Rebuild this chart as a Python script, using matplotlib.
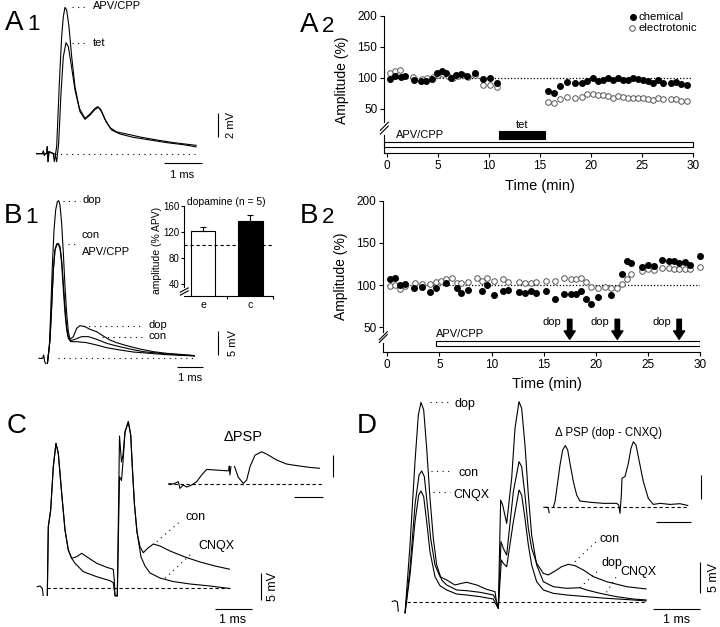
import numpy as np
import matplotlib
matplotlib.use('Agg')
import matplotlib.pyplot as plt
from matplotlib.patches import Rectangle

plt.rcParams['font.family'] = ['Liberation Sans', 'DejaVu Sans']

W, H = 720, 627
nan = np.nan

# ---------------- A1 traces (ms, mV)
a1_apv_t = [0, 0.175, 0.193, 0.219, 0.246, 0.281, 0.298, 0.316, 0.342, 0.456, 0.482, 0.544, 0.614, 0.675,
            0.719, 0.763, 0.807, 0.868, 0.939, 1.026, 1.14, 1.289, 1.421, 1.553, 1.623, 1.702, 1.816, 1.947,
            2.123, 2.386, 2.737, 3.175, 3.614, 4.228]
a1_apv_v = [0, 0, 0.22, -0.14, 0, 0, 0.58, -0.67, 0.17, -0.03, -0.67, 0.58, 5.86, 9.75, 11.42, 12.19, 11.97,
            10.58, 8.08, 5.58, 3.78, 2.94, 3.31, 3.78, 3.92, 3.69, 2.86, 2.17, 1.81, 1.64, 1.39, 1.14, 0.92, 0.69]
a1_tet_t = [0, 0.175, 0.193, 0.219, 0.246, 0.281, 0.298, 0.316, 0.342, 0.5, 0.544, 0.596, 0.658, 0.719, 0.789,
            0.851, 0.921, 1.026, 1.158, 1.289, 1.421, 1.553, 1.64, 1.728, 1.842, 1.991, 2.211, 2.561, 3.0, 3.439,
            3.877, 4.228]
a1_tet_v = [0, 0, 0.22, -0.14, 0, 0, 0.58, -0.67, 0.17, -0.03, -0.67, 0.86, 5.03, 8.08, 9.25, 8.92, 7.53, 5.31,
            3.5, 2.86, 3.22, 3.69, 3.86, 3.5, 2.67, 1.97, 1.64, 1.36, 1.14, 0.92, 0.75, 0.56]

# ---------------- A2 time course (min, %)
a2_chem_t = [0.3, 0.8, 1.4, 1.8, 2.7, 3.3, 3.8, 4.4, 4.9, 5.4, 5.8, 6.3, 6.8, 7.3, 7.9, 8.6, 9.4, 10.1, 10.8,
             15.8, 16.4, 17.0, 17.7, 18.5, 19.1, 19.6, 20.2, 20.7, 21.2, 21.7, 22.2, 22.7, 23.2, 23.7, 24.1,
             24.6, 25.1, 25.6, 26.1, 26.6, 27.1, 27.9, 28.4, 28.9, 29.4]
a2_chem_v = [98, 103, 100.5, 102, 96, 95, 95, 98, 108, 110, 108, 99, 105, 106, 102, 107.5, 98, 100, 91,
             78, 75, 86.5, 93.5, 91, 91, 94, 100, 94.6, 96, 99, 97, 99, 96, 95.7, 99.5, 98, 96, 94.6, 92, 96,
             91, 91, 93, 90, 88]
a2_elec_t = [0.3, 0.8, 1.3, 2.6, 3.4, 3.9, 4.5, 5.0, 5.5, 6.0, 6.5, 7.0, 7.5, 8.0, 8.6, 9.4, 10.1, 10.8,
             15.8, 16.4, 17.0, 17.7, 18.5, 19.1, 19.6, 20.2, 20.7, 21.2, 21.7, 22.2, 22.7, 23.2, 23.7, 24.1,
             24.6, 25.1, 25.6, 26.1, 26.6, 27.1, 27.9, 28.4, 28.9, 29.4]
a2_elec_v = [107, 110, 112, 101.6, 98, 100, 101, 104, 106, 103, 100, 103, 104, 101, 104, 88, 87.6, 85.5,
             60, 58.6, 65.6, 69, 66.7, 69, 73, 74, 72, 72, 70.4, 68, 71, 68.3, 67, 67, 67, 66.7, 66, 64, 67,
             65, 65, 66, 62, 62]
a2_apv = (-0.26, 30.0)
a2_tet = (11.0, 15.55)

# ---------------- B1 traces (ms, mV)
b1_art_t = [0, 0.167, 0.205, 0.244, 0.3]
b1_art_v = [-0.14, -0.14, 0.55, -0.82, -1.3]
b1_dop_t = [0.346, 0.423, 0.474, 0.538, 0.603, 0.667, 0.731, 0.782, 0.833, 0.897, 0.962, 1.026, 1.090, 1.154,
            1.218, 1.346, 1.474, 1.603, 1.795, 1.987, 2.244, 2.5, 2.756, 3.013, 3.397, 3.910, 4.423, 4.936,
            5.449, 6.026]
b1_dop_v = [-1.30, 2.26, 9.11, 18.70, 26.23, 30.34, 32.05, 32.26, 31.37, 27.60, 21.44, 14.59, 9.11, 5.34,
            3.77, 4.32, 6.03, 6.58, 6.37, 5.82, 5.34, 4.45, 3.63, 3.08, 2.47, 1.78, 1.23, 0.89, 0.68, 0.41]
b1_con_t = [0.346, 0.449, 0.513, 0.577, 0.641, 0.705, 0.769, 0.833, 0.897, 0.962, 1.026, 1.090, 1.154, 1.244,
            1.410, 1.667, 1.923, 2.244, 2.628, 3.013, 3.526, 4.038, 4.679, 5.321, 6.026]
b1_con_v = [-1.30, 3.63, 10.48, 18.01, 22.12, 23.36, 23.49, 22.81, 20.07, 15.27, 10.48, 6.37, 4.32, 3.49,
            3.77, 4.32, 4.32, 3.77, 2.95, 2.40, 1.78, 1.23, 0.89, 0.62, 0.41]
b1_apv_t = [0.346, 0.449, 0.513, 0.577, 0.641, 0.705, 0.769, 0.833, 0.897, 0.962, 1.026, 1.090, 1.154, 1.244,
            1.474, 1.859, 2.244, 2.628, 3.141, 3.654, 4.295, 4.936, 6.026]
b1_apv_v = [-1.30, 3.63, 10.48, 18.01, 22.12, 23.15, 23.29, 22.47, 19.38, 13.90, 9.11, 5.68, 3.97, 3.29,
            3.29, 3.08, 2.60, 2.05, 1.58, 1.16, 0.89, 0.62, 0.34]

# B1 inset bars
inset_cats = ['e', 'c']
inset_vals = [122, 137]
inset_err = [5, 9]

# ---------------- B2 time course (min, %)
b2_chem_t = [0.26, 0.74, 1.2, 1.7, 2.6, 3.3, 4.1, 4.7, 5.6, 6.65, 7.1, 7.7, 9.05, 9.6, 10.2, 11.1, 11.6, 12.6,
             13.2, 13.8, 14.3, 15.2, 16.1, 17.0, 17.6, 18.1, 18.6, 19.1, 19.5, 20.2, 21.5, 22.5, 23.0, 23.4,
             24.4, 25.0, 25.6, 26.4, 27.05, 27.5, 28.0, 28.6, 29.0, 30.0]
b2_chem_v = [106.7, 109, 100, 100.8, 96, 98, 92, 97, 103, 97, 91, 94.5, 93, 100, 88, 93, 94.5, 92, 91, 93,
             91, 93, 84, 90, 90, 90, 93, 83, 77.6, 86, 88.6, 113, 128, 125.6, 121, 123.6, 123, 130, 128, 128,
             126, 127.6, 124.4, 134]
b2_elec_t = [0.26, 0.74, 1.2, 1.7, 2.65, 3.3, 4.1, 4.7, 5.15, 5.6, 6.2, 6.65, 7.1, 7.7, 8.6, 9.05, 9.6, 10.2,
             11.1, 11.6, 12.6, 13.2, 13.8, 14.3, 15.2, 16.1, 17.0, 17.6, 18.1, 18.6, 19.1, 19.5, 20.2, 20.9,
             21.5, 22.0, 22.5, 23.0, 23.4, 24.4, 25.0, 25.6, 26.4, 27.05, 27.5, 28.0, 28.6, 29.0, 30.0]
b2_elec_v = [99, 99.6, 95.7, 99, 102, 100.8, 100.8, 103.5, 105, 107.5, 109, 103, 103, 104, 109, 105, 109,
             104.7, 107.5, 103.5, 103.5, 102.4, 102, 103.5, 104.7, 104.3, 109, 107, 107, 108, 103.5, 98, 96.9,
             98, 96.9, 96, 101, 106.7, 113, 117, 118.5, 117.7, 120, 120, 119, 119, 119, 119, 121]
b2_apv = (4.64, 30.0)
b2_dop_times = [17.5, 22.07, 28.0]

# ---------------- C traces (ms, mV)
c_art_t = [0, 0.088, 0.150, 0.177]
c_art_v = [0.18, 0.31, -0.11, -1.52]
c_con_t = [0.284, 0.311, 0.375, 0.445, 0.517, 0.579, 0.670, 0.759, 0.847, 0.938, 1.072, 1.206, 1.340, 1.609,
           1.877, 2.054, 2.080, 2.099, 2.161, 2.220, 2.273, 2.314, 2.367, 2.456, 2.520, 2.568, 2.622, 2.689,
           2.769, 2.858, 2.984, 3.126, 3.306, 3.574, 3.976, 4.378, 4.780, 5.182]
c_con_v = [-1.52, 11.15, 14.2, 22.12, 26.4, 24.57, 17.26, 10.55, 6.89, 5.37, 5.67, 6.29, 5.67, 4.46, 3.73,
           3.36, 1.41, -1.33, -1.52, 27.73, 22.98, 24.26, 28.46, 30.35, 27.92, 21.52, 15.12, 10.18, 7.49,
           6.40, 7.26, 7.99, 7.62, 6.71, 5.61, 4.70, 3.97, 3.36]
c_cnqx_t = [0.284, 0.311, 0.375, 0.445, 0.517, 0.579, 0.670, 0.759, 0.847, 0.938, 1.027, 1.249, 1.609, 1.965,
            2.054, 2.080, 2.099, 2.161, 2.220, 2.273, 2.314, 2.367, 2.456, 2.520, 2.568, 2.622, 2.689, 2.796,
            2.903, 3.037, 3.306, 3.654, 4.110, 4.646, 5.182]
c_cnqx_v = [-1.52, 11.15, 14.2, 22.12, 26.4, 24.57, 17.26, 10.55, 6.89, 5.37, 4.46, 2.93, 2.01, 1.28, 0.91,
            -0.42, -1.52, -1.52, 20.3, 19.6, 23.0, 28.46, 30.35, 27.92, 21.52, 15.12, 10.18, 5.61, 3.97, 2.69,
            1.77, 1.13, 0.68, 0.31, -0.15]
# C inset (difference trace, bar units)
cpsp_t = [0, 0.172, 0.345, 0.402, 0.517, 0.632, 0.805, 0.977, 1.149, 1.322, 1.667, 2.011, 2.080, 2.103, 2.126,
          2.161, nan, 2.277, 2.415, 2.587, 2.702, 2.817, 2.99, 3.22, 3.392, 3.737, 4.082, 4.541, 4.886, 5.231]
cpsp_v = [0, -0.01, 0.09, -0.21, -0.06, -0.15, -0.06, 0.09, 0.39, 0.64, 0.61, 0.58, 0.58, 0.79, 0.39, 0.79,
          nan, 0.79, 0.28, 0.015, 0.16, 0.76, 1.28, 1.43, 1.33, 1.06, 0.88, 0.79, 0.73, 0.69]

# ---------------- D traces (ms, mV)
d_art_t = [0, 0.071, 0.121, 0.142]
d_art_v = [0.05, 0.21, 0, -1.53]
d_dop_t = [0.285, 0.392, 0.499, 0.570, 0.627, 0.685, 0.749, 0.820, 0.891, 0.963, 1.070, 1.177, 1.391, 1.605,
           1.891, 2.176, 2.233, 2.262, 2.283, 2.333, 2.376, 2.462, 2.569, 2.640, 2.726, 2.783, 2.854, 2.926,
           2.997, 3.104, 3.247, 3.461, 3.747, 4.032, 4.175, 4.460, 4.817, 5.174, 5.460]
d_dop_v = [-1.79, 9.00, 22.17, 29.54, 31.54, 30.33, 24.28, 16.38, 10.06, 5.85, 3.48, 2.69, 1.90, 1.79, 1.53,
           1.11, 0.32, -0.47, -1.0, 16.11, 15.32, 12.43, 19.54, 27.44, 31.65, 30.60, 24.80, 16.90, 10.58, 5.85,
           3.21, 2.42, 2.16, 2.26, 1.90, 1.37, 0.84, 0.47, 0.32]
d_con_t = [0.285, 0.392, 0.499, 0.585, 0.642, 0.699, 0.763, 0.834, 0.927, 1.034, 1.177, 1.355, 1.498, 1.605,
           1.819, 2.034, 2.212, 2.248, 2.283, 2.340, 2.390, 2.462, 2.605, 2.726, 2.783, 2.854, 2.926, 2.997,
           3.104, 3.247, 3.354, 3.497, 3.640, 3.782, 3.925, 4.103, 4.318, 4.603, 5.031, 5.460]
d_con_v = [-1.79, 5.32, 15.32, 20.06, 20.70, 19.80, 15.32, 10.06, 5.85, 4.00, 3.48, 2.69, 2.95, 3.11, 2.69,
           2.00, 1.63, -0.21, -1.0, 9.53, 8.48, 7.42, 17.43, 22.17, 21.38, 16.90, 11.64, 8.48, 6.11, 4.53, 4.27,
           4.90, 5.58, 5.95, 5.74, 5.06, 4.00, 3.21, 2.42, 2.05]
d_cnqx_t = [0.285, 0.392, 0.499, 0.578, 0.627, 0.685, 0.749, 0.820, 0.927, 1.034, 1.177, 1.391, 1.605, 1.891,
            2.176, 2.248, 2.283, 2.348, 2.390, 2.462, 2.605, 2.726, 2.783, 2.854, 2.926, 2.997, 3.104, 3.247,
            3.461, 3.747, 4.175, 4.603, 5.174, 5.460]
d_cnqx_v = [-1.79, 4.27, 12.69, 16.90, 17.54, 16.64, 12.69, 7.95, 4.00, 2.58, 1.90, 1.26, 1.11, 0.84, 0.47,
            -0.58, -1.0, 6.64, 6.11, 5.58, 12.69, 17.69, 16.90, 13.22, 9.00, 5.85, 3.21, 1.90, 1.37, 1.11, 0.84,
            0.58, 0.32, 0.16]
# D inset (difference trace, bar units)
dpsp_t = [-0.048, 0.076, 0.105, 0.124, nan, 0.238, 0.286, 0.352, 0.429, 0.505, 0.581, 0.648, 0.714, 0.81,
          0.905, 1.0, 1.286, 1.667, 2.048, 2.105, 2.143, 2.181, 2.2, 2.286, 2.381, 2.457, 2.524, 2.6, 2.695,
          2.81, 2.952, 3.095, 3.286, 3.571, 3.857, 4.094]
dpsp_v = [0, 0, -0.11, -0.25, nan, 0, 0.235, 0.93, 1.76, 2.39, 2.57, 2.39, 1.83, 1.07, 0.51, 0.26, 0.21,
          0.165, 0.165, 0.096, -0.25, 0.51, 1.21, 1.28, 1.83, 2.46, 2.73, 2.6, 1.9, 1.07, 0.37, 0.12, 0.165,
          0.12, 0.15, 0.07]

LW = 0.8
DOTS = (0, (1, 4))
DASH = (0, (3, 2.4))

fig = plt.figure(figsize=(W / 100, H / 100), dpi=100)


def rect_px(l, t, r, b):
    return [l / W, 1 - b / H, (r - l) / W, (b - t) / H]


def trace_axes(x0, y0, sx, sy):
    # transparent axes over the whole figure; (x0, y0) pixel of the origin, sx/sy pixels per unit
    ax = fig.add_axes([0, 0, 1, 1])
    ax.set_xlim(-x0 / sx, (W - x0) / sx)
    ax.set_ylim((y0 - H) / sy, y0 / sy)
    ax.axis('off')
    ax.patch.set_alpha(0)
    return ax


def line(ax, x, y, ls='-'):
    ax.plot(x, y, color='k', lw=LW, ls=ls, solid_capstyle='butt')


def scale(ax, xv, yv0, yv1, xh0, xh1, yh):
    line(ax, [xv, xv], [yv0, yv1])
    line(ax, [xh0, xh1], [yh, yh])


def label(ax, x, y, s, size=8, **kw):
    kw.setdefault('ha', 'left')
    kw.setdefault('va', 'center')
    ax.text(x, y, s, fontsize=size, **kw)


def panel(x, y, letter, num=None):
    fig.text(x / W, 1 - y / H, letter, fontsize=20, va='baseline')
    if num:
        fig.text((x + 22) / W, 1 - y / H, num, fontsize=16, va='baseline')


def axis_break(ax, segs, dx):
    for y0, y1 in segs:
        ax.plot([-dx, dx], [y0, y1], transform=ax.get_yaxis_transform(), color='k', lw=LW, clip_on=False)


def time_axes(ax, ylo, gap, xlim, ylim, dx, slashes):
    ax.set_xlim(*xlim)
    ax.set_ylim(*ylim)
    for s in ['top', 'right']:
        ax.spines[s].set_visible(False)
    ax.spines['left'].set_bounds(gap[1], 200)
    ax.plot([0, 0], [ylim[0], gap[0]], transform=ax.get_yaxis_transform(), color='k', lw=LW, clip_on=False)
    axis_break(ax, slashes, dx)
    for s in ['left', 'bottom']:
        ax.spines[s].set_linewidth(LW)
    ax.set_yticks([50, 100, 150, 200])
    ax.set_xticks(range(0, 31, 5))
    ax.tick_params(direction='out', length=3, width=LW, labelsize=8.5, pad=2)
    ax.hlines(100, 0, 30, color='k', lw=0.9, ls=(0, (1, 1.6)))
    ax.patch.set_alpha(0)


# ================= A1
ax = trace_axes(36, 153.67, 38, 12)
line(ax, a1_apv_t, a1_apv_v)
line(ax, a1_tet_t, a1_tet_v)
line(ax, [0.5, 4.23], [0, 0], DOTS)
line(ax, [0.95, 1.29], [12.19, 12.19], DOTS)
line(ax, [0.95, 1.29], [9.25, 9.25], DOTS)
label(ax, 1.5, 12.3, 'APV/CPP')
label(ax, 1.5, 9.2, 'tet')
scale(ax, 4.79, 1.39, 3.39, 3.37, 4.37, -0.78)
label(ax, 3.85, -1.75, '1 ms', ha='center')
label(ax, 5.12, 2.39, '2 mV', ha='center', rotation=90)

# ================= A2
ax = fig.add_axes(rect_px(384.3, 15.7, 692.7, 153.3))
time_axes(ax, -22, (7.6, 29), (-0.26, 30), (-22, 200), 0.013, [(9, 22), (15, 28)])
ax.plot(a2_elec_t, a2_elec_v, 'o', ms=4, mfc='white', mec='#555555', mew=0.7, clip_on=False)
ax.plot(a2_chem_t, a2_chem_v, 'o', ms=4, color='k', clip_on=False)
ax.add_patch(Rectangle((a2_apv[0], -11.8), a2_apv[1] - a2_apv[0], 8.6, fc='white', ec='k', lw=LW, clip_on=False))
ax.add_patch(Rectangle((a2_tet[0], 1.6), a2_tet[1] - a2_tet[0], 12.9, fc='k', ec='k', lw=LW))
ax.text(13.3, 15, 'tet', fontsize=8, ha='center', va='bottom')
ax.text(0.9, 7.6, 'APV/CPP', fontsize=8, ha='left', va='center')
ax.plot([24.1], [197.9], 'o', ms=4, color='k', clip_on=False)
ax.plot([24.0], [180.2], 'o', ms=4, mfc='white', mec='#555555', mew=0.7, clip_on=False)
ax.text(24.7, 197.9, 'chemical', fontsize=8.2, va='center')
ax.text(24.7, 180.2, 'electrotonic', fontsize=8.2, va='center')
ax.set_xlabel('Time (min)', fontsize=10.5)
ax.xaxis.set_label_coords(0.505, -0.19)
ax.set_ylabel('Amplitude (%)', fontsize=10)
ax.yaxis.set_label_coords(-0.115, 0.53)

# ================= B1
ax = trace_axes(38.33, 357.67, 26, 4.867)
line(ax, b1_art_t, b1_art_v)
line(ax, b1_apv_t, b1_apv_v)
line(ax, b1_con_t, b1_con_v)
line(ax, b1_dop_t, b1_dop_v)
line(ax, [0.77, 6.09], [0, 0], DOTS)
line(ax, [0.96, 1.6], [32.26, 32.26], DOTS)
line(ax, [1.15, 1.54], [23.4, 23.4], DOTS)
line(ax, [1.73, 4.04], [6.58, 6.58], DOTS)
line(ax, [2.44, 4.04], [4.32, 4.32], DOTS)
label(ax, 1.71, 32.4, 'dop')
label(ax, 1.67, 25.2, 'con')
label(ax, 1.67, 21.7, 'APV/CPP')
label(ax, 4.23, 6.8, 'dop')
label(ax, 4.23, 4.5, 'con')
scale(ax, 6.92, 0.55, 5.55, 5.32, 6.32, -1.97)
label(ax, 5.82, -4.2, '1 ms', ha='center')
label(ax, 7.5, 2.96, '5 mV', ha='center', rotation=90)

# B1 inset bar chart
ax = fig.add_axes(rect_px(184.3, 205.7, 273, 295.7))
x = np.arange(len(inset_cats))
ax.bar(x, inset_vals, width=0.52, color=['white', 'black'], edgecolor='k', lw=LW)
ax.errorbar(x, inset_vals, yerr=[[0, 0], inset_err], fmt='none', ecolor='k', elinewidth=LW, capsize=2.5, capthick=LW)
ax.set_xlim(-0.4, 1.48)
ax.set_ylim(22.6, 160)
ax.axhline(100, color='k', lw=LW, ls=(0, (3, 2.4)))
for s in ['top', 'right']:
    ax.spines[s].set_visible(False)
ax.spines['left'].set_bounds(36, 160)
for s in ['left', 'bottom']:
    ax.spines[s].set_linewidth(LW)
axis_break(ax, [(23.5, 30), (28, 34.5)], 0.045)
ax.set_yticks([40, 80, 120, 160])
ax.set_xticks(x)
ax.set_xticklabels(inset_cats)
ax.set_xticks([0.5, 1.48], minor=True)
ax.tick_params(axis='y', direction='out', length=2.5, width=LW, labelsize=7, pad=1)
ax.tick_params(axis='x', which='major', length=0, labelsize=7.5, pad=3)
ax.tick_params(axis='x', which='minor', direction='out', length=2.5, width=LW)
ax.set_ylabel('amplitude (% APV)', fontsize=7.5, labelpad=1)
ax.text(0.47, 1.04, 'dopamine (n = 5)', transform=ax.transAxes, fontsize=7.5, ha='center', va='center')
ax.patch.set_alpha(0)

# ================= B2
ax = fig.add_axes(rect_px(383.3, 200.7, 700, 351.7))
time_axes(ax, 21.1, (31.1, 44.8), (-0.38, 30), (21.1, 200), 0.0126, [(32, 41.5), (35.3, 44.8)])
ax.plot(b2_elec_t, b2_elec_v, 'o', ms=4, mfc='white', mec='#555555', mew=0.7, clip_on=False)
ax.plot(b2_chem_t, b2_chem_v, 'o', ms=4, color='k', clip_on=False)
ax.add_patch(Rectangle((b2_apv[0], 27.8), b2_apv[1] - b2_apv[0], 6.3, fc='white', ec='k', lw=LW))
ax.text(b2_apv[0], 41.5, 'APV/CPP', fontsize=8, ha='left', va='center')
for t in b2_dop_times:
    ax.annotate('', xy=(t, 35.8), xytext=(t, 59.5),
                arrowprops=dict(facecolor='k', edgecolor='k', width=3.2, headwidth=8, headlength=6, shrink=0))
    ax.text(t - 0.8, 56.6, 'dop', fontsize=8, ha='right', va='center')
ax.set_xlabel('Time (min)', fontsize=10.5)
ax.xaxis.set_label_coords(0.516, -0.17)
ax.set_ylabel('Amplitude (%)', fontsize=10)
ax.yaxis.set_label_coords(-0.11, 0.5)

# ================= C
ax = trace_axes(36.7, 587.7, 37.3, 5.47)
line(ax, c_art_t, c_art_v)
line(ax, c_cnqx_t, c_cnqx_v)
line(ax, c_con_t, c_con_v)
line(ax, [0.27, 5.19], [0, 0], DASH)
line(ax, [3.22, 3.89], [8.41, 12.38], DOTS)
line(ax, [3.44, 4.16], [1.72, 6.29], DOTS)
label(ax, 4.0, 13.0, 'con', size=9)
label(ax, 4.33, 7.6, 'CNQX', size=9)
scale(ax, 6.01, -2.25, 2.75, 4.78, 5.78, -3.84)
label(ax, 5.26, -5.95, '1 ms', size=9, ha='center')
label(ax, 6.33, 0.25, '5 mV', size=9, ha='center', rotation=90)

ax = trace_axes(168.3, 483.7, 29, 22.3)
line(ax, cpsp_t, cpsp_v)
line(ax, [0, 5.3], [0, 0], DASH)
scale(ax, 5.69, 0.29, 1.29, 4.34, 5.32, -0.61)
label(ax, 2.59, 2.08, '\u0394PSP', size=10.5, ha='center')

# ================= D
ax = trace_axes(391.7, 602, 46.7, 6.33)
line(ax, d_art_t, d_art_v)
line(ax, d_cnqx_t, d_cnqx_v)
line(ax, d_con_t, d_con_v)
line(ax, d_dop_t, d_dop_v)
line(ax, [0.32, 5.46], [0, 0], DASH)
line(ax, [0.82, 1.21], [31.54, 31.54], DOTS)
line(ax, [0.85, 1.28], [20.7, 20.7], DOTS)
line(ax, [0.89, 1.25], [17.43, 17.43], DOTS)
label(ax, 1.34, 31.3, 'dop', size=9)
label(ax, 1.43, 20.4, 'con', size=9)
label(ax, 1.32, 16.9, 'CNQX', size=9)
line(ax, [3.92, 4.38], [6.37, 9.53], DOTS)
line(ax, [4.03, 4.46], [2.26, 5.21], DOTS)
line(ax, [4.6, 4.81], [1.53, 4.0], DOTS)
label(ax, 4.46, 10.0, 'con', size=9)
label(ax, 4.49, 6.2, 'dop', size=9)
label(ax, 4.89, 4.7, 'CNQX', size=9)
scale(ax, 6.60, 1.37, 6.37, 5.60, 6.60, -1.11)
label(ax, 6.10, -2.9, '1 ms', size=9, ha='center')
label(ax, 6.90, 3.87, '5 mV', size=9, ha='center', rotation=90)

ax = trace_axes(545, 507.3, 35, 24)
line(ax, dpsp_t, dpsp_v)
line(ax, [0, 4.09], [0, 0], DASH)
scale(ax, 4.45, 0.35, 1.35, 3.17, 4.17, -0.6)
label(ax, 1.8, 3.11, '\u0394 PSP (dop - CNXQ)', size=8.3, ha='center')

# panel letters
panel(5, 30, 'A', '1')
panel(300, 31.7, 'A', '2')
panel(3.5, 223, 'B', '1')
panel(300, 223, 'B', '2')
panel(7, 433.3, 'C')
panel(357, 433.3, 'D')

fig.savefig('out.png', dpi=100)
